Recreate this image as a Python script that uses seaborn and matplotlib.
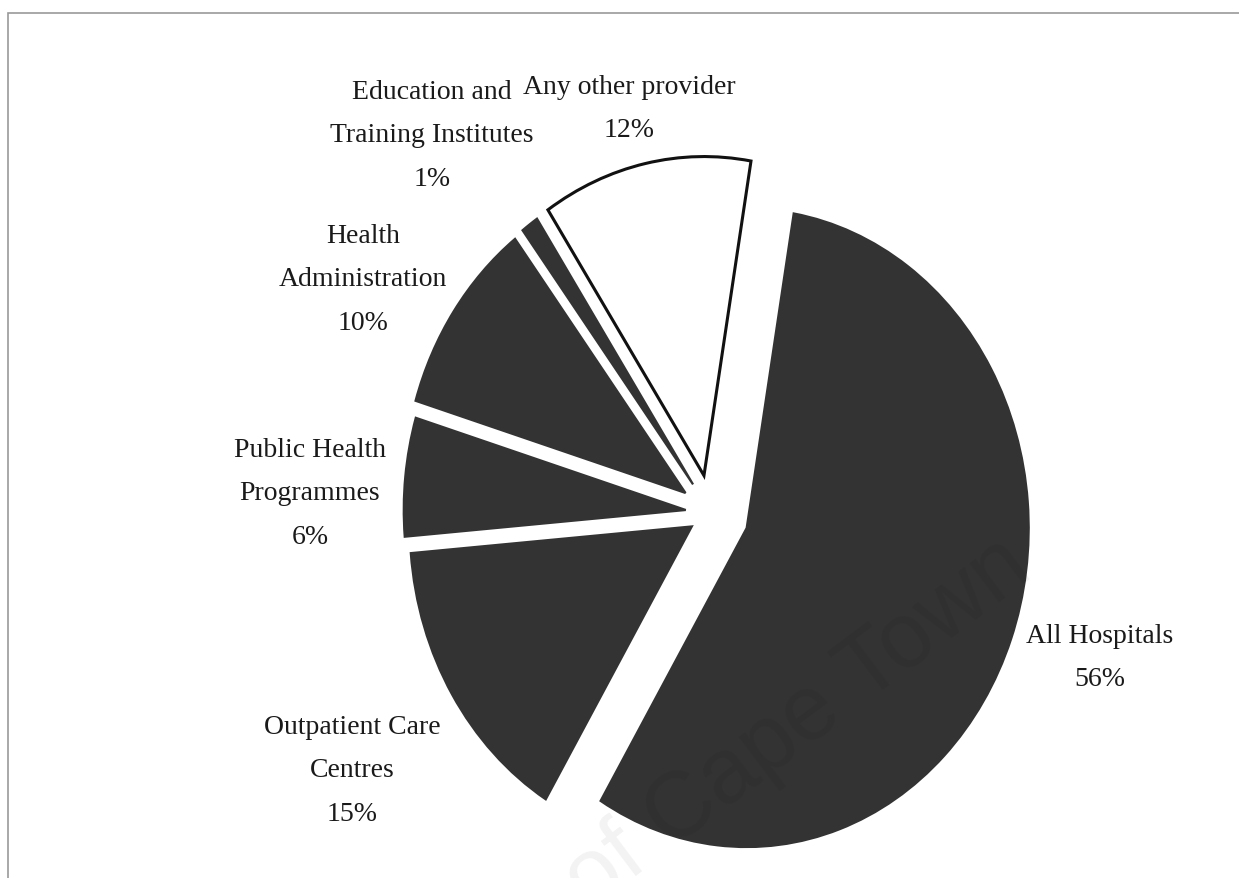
import matplotlib
matplotlib.use('Agg')
import matplotlib.pyplot as plt
from matplotlib.patches import Rectangle
import seaborn as sns

sns.set_style('white')
plt.rcParams['font.family'] = ['Liberation Serif', 'DejaVu Serif']

# Gasto por prestador de saúde
providers = ['All Hospitals', 'Outpatient Care\nCentres', 'Public Health\nProgrammes',
             'Health\nAdministration', 'Education and\nTraining Institutes', 'Any other provider']
shares = [56, 15, 6, 10, 1, 12]
colors = ['#333333', '#333333', '#333333', '#333333', '#333333', '#ffffff']
explode = [0.135, 0.08, 0.09, 0.11, 0.11, 0.12]

# posição dos rótulos (pixels a partir do canto superior esquerdo)
label_px = [(1100, 658), (352, 771), (310, 494),
            (363, 280), (432, 136), (629, 109)]

W, H = 1239, 879
fig = plt.figure(figsize=(W / 100, H / 100), dpi=100)
ax = fig.add_axes([0, 0, 1, 1])

wedges, _ = ax.pie(shares, colors=colors, explode=explode, startangle=80.4,
                   counterclock=False, radius=1,
                   wedgeprops=dict(linewidth=1.6, edgecolor='#333333'))
wedges[-1].set_edgecolor('#111111')
wedges[-1].set_linewidth(2.2)

# pie escaneado: ligeiramente esticado na vertical
ax.set_aspect('auto')
ax.set_xlim(-711 / 282, (W - 711) / 282)
ax.set_ylim(-365 / 319, (H - 365) / 319)
ax.axis('off')

for name, val, (px, py) in zip(providers, shares, label_px):
    fig.text(px / W, 1 - py / H, f'{name}\n{val}%', ha='center', va='center',
             fontsize=20, linespacing=1.95, color='#1a1a1a')

# moldura
fig.patches.append(Rectangle((8 / W, -0.01), 1.1, 1 - 14 / H + 0.01,
                             transform=fig.transFigure, fill=False,
                             edgecolor='#9a9a9a', linewidth=1.2))

# marca d'água
fig.text(1035 / W, 1 - 575 / H, 'University of Cape Town', ha='right', va='baseline',
         rotation=37, rotation_mode='anchor', fontsize=66, family='Liberation Sans',
         color='black', alpha=0.05)

fig.savefig('out.png', dpi=100)
